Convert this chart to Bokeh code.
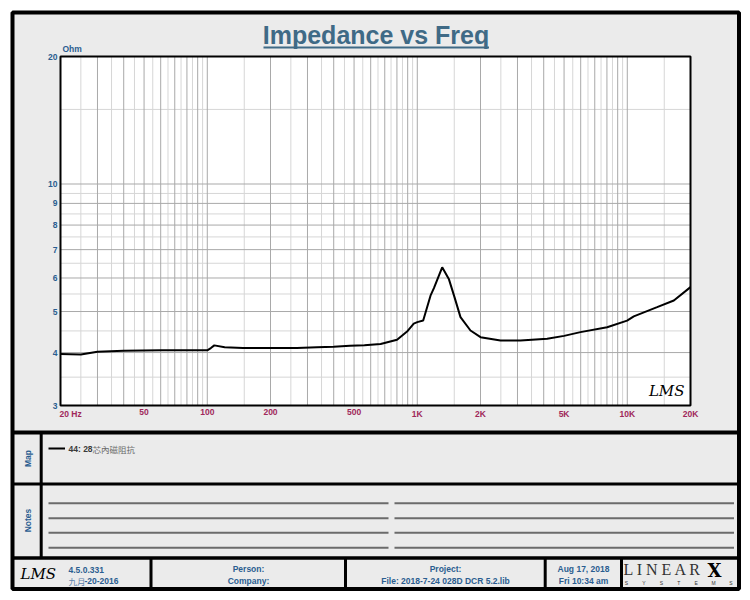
import math
from bokeh.plotting import figure
from bokeh.models import Range1d, LogScale
from bokeh.core.properties import value
from bokeh.embed import file_html
from bokeh.resources import INLINE

# ---------------- data ----------------
freq_hz = [20, 25, 30, 40, 60, 80, 100, 104, 108, 121, 148, 200, 267, 333, 400,
           478, 560, 669, 801, 900, 962, 1000, 1067, 1156, 1200, 1314, 1413,
           1500, 1606, 1792, 2000, 2490, 3100, 4155, 5000, 5985, 8016, 9980,
           10740, 13870, 16660, 20000]
impedance_ohm = [3.97, 3.96, 4.02, 4.04, 4.05, 4.05, 4.05, 4.10, 4.16, 4.12, 4.10,
                 4.10, 4.10, 4.12, 4.13, 4.15, 4.16, 4.19, 4.29, 4.50, 4.68, 4.72,
                 4.76, 5.45, 5.68, 6.36, 5.97, 5.43, 4.85, 4.51, 4.35, 4.27, 4.27,
                 4.31, 4.38, 4.47, 4.59, 4.76, 4.87, 5.12, 5.31, 5.71]

x_tick_values = [20, 50, 100, 200, 500, 1000, 2000, 5000, 10000, 20000]
x_tick_labels = ["20  Hz", "50", "100", "200", "500", "1K", "2K", "5K", "10K", "20K"]
y_tick_values = [3, 4, 5, 6, 7, 8, 9, 10, 20]
y_tick_labels = ["3", "4", "5", "6", "7", "8", "9", "10", "20"]
y_grid_major = [4, 5, 6, 7, 8, 9, 10]
y_grid_minor = [3.5, 4.5, 5.5, 6.5, 7.5, 8.5, 9.5, 15]

title_text = "Impedance vs Freq"
y_unit = "Ohm"
legend_id = "44: 28"
legend_name = "芯內磁阻抗"
version_text = "4.5.0.331"
date_cjk = "九月"
date_rest = "-20-2016"
person_lines = ["Person:", "Company:"]
project_lines = ["Project:", "File: 2018-7-24 028D DCR 5.2.lib"]
stamp_lines = ["Aug 17, 2018", "Fri 10:34 am"]

# ---------------- layout constants ----------------
W, H = 750, 600
PX0, PX1 = 60, 690          # chart frame left/right (px)
PY0, PY1 = 56, 405          # chart frame top/bottom (px)
F_MIN, F_MAX = 20, 20000
Z_MIN, Z_MAX = 3, 20

GREY = "#ebebeb"
BLUE = "#2a5d90"
TITLE_BLUE = "#3f6a86"
MAROON = "#a0285a"
GRID_DARK = "#a9a9a9"
GRID_LIGHT = "#d6d6d6"
FONT = "Liberation Sans"
CJK = "Noto Sans CJK TC"
SMALL = "8.5px"

dec_px = (PX1 - PX0) / math.log10(F_MAX / F_MIN)
f_left = F_MIN * 10 ** (-PX0 / dec_px)
f_right = F_MIN * 10 ** ((W - PX0) / dec_px)
z_px = (PY1 - PY0) / math.log10(Z_MAX / Z_MIN)
z_top = Z_MAX * 10 ** (PY0 / z_px)
z_bottom = Z_MIN * 10 ** (-(H - PY1) / z_px)

p = figure(width=W, height=H, x_range=Range1d(0, W), y_range=Range1d(H, 0),
           x_axis_type=None, y_axis_type=None, toolbar_location=None,
           output_backend="svg", min_border=0, outline_line_color=None,
           background_fill_color="white", border_fill_color="white")
p.extra_x_ranges = {"f": Range1d(f_left, f_right)}
p.extra_x_scales = {"f": LogScale()}
p.extra_y_ranges = {"z": Range1d(z_bottom, z_top)}
p.extra_y_scales = {"z": LogScale()}
FZ = dict(x_range_name="f", y_range_name="z")

# panel background
L, R, T, B = 12, 738.5, 12, 588.5
p.quad(left=[L], right=[R], top=[T], bottom=[B], fill_color=GREY, line_color=None)

# chart area
p.quad(left=[F_MIN], right=[F_MAX], bottom=[Z_MIN], top=[Z_MAX], fill_color="white",
       line_color=None, **FZ)

x_major = [k * 10 ** d for d in range(1, 5) for k in range(1, 10)
           if F_MIN < k * 10 ** d < F_MAX]
x_minor = [(k + 0.5) * 10 ** d for d in range(1, 5) for k in range(1, 10)
           if F_MIN < (k + 0.5) * 10 ** d < F_MAX]

p.segment(x0=x_minor, x1=x_minor, y0=[Z_MIN] * len(x_minor), y1=[Z_MAX] * len(x_minor),
          line_color=GRID_LIGHT, line_width=1, **FZ)
p.segment(x0=[F_MIN] * len(y_grid_minor), x1=[F_MAX] * len(y_grid_minor),
          y0=y_grid_minor, y1=y_grid_minor, line_color=GRID_LIGHT, line_width=1, **FZ)
p.segment(x0=x_major, x1=x_major, y0=[Z_MIN] * len(x_major), y1=[Z_MAX] * len(x_major),
          line_color=GRID_DARK, line_width=1, **FZ)
p.segment(x0=[F_MIN] * len(y_grid_major), x1=[F_MAX] * len(y_grid_major),
          y0=y_grid_major, y1=y_grid_major, line_color=GRID_DARK, line_width=1, **FZ)

# impedance curve
p.line(freq_hz, impedance_ohm, line_color="black", line_width=2, **FZ)

# chart frame
p.quad(left=[F_MIN], right=[F_MAX], bottom=[Z_MIN], top=[Z_MAX], fill_color=None,
       line_color="black", line_width=2, **FZ)

# axis labels
p.text(x=[F_MIN] * len(y_tick_values), y=y_tick_values, text=y_tick_labels, x_offset=-3,
       text_align="right", text_baseline="middle", text_font=value(FONT),
       text_font_size=SMALL, text_font_style="bold", text_color=BLUE, **FZ)
p.text(x=[F_MIN], y=[Z_MAX], text=[y_unit], x_offset=2, y_offset=-3,
       text_align="left", text_baseline="bottom", text_font=value(FONT),
       text_font_size=SMALL, text_font_style="bold", text_color=BLUE, **FZ)
p.text(x=x_tick_values[:1], y=[Z_MIN], text=x_tick_labels[:1], x_offset=-1, y_offset=3,
       text_align="left", text_baseline="top", text_font=value(FONT),
       text_font_size=SMALL, text_font_style="bold", text_color=MAROON, **FZ)
p.text(x=x_tick_values[1:], y=[Z_MIN] * (len(x_tick_values) - 1), text=x_tick_labels[1:],
       y_offset=3, text_align="center", text_baseline="top", text_font=value(FONT),
       text_font_size=SMALL, text_font_style="bold", text_color=MAROON, **FZ)

# in-chart logo
p.text(x=[F_MAX], y=[Z_MIN], text=["LMS"], x_offset=-6, y_offset=-6, text_align="right",
       text_baseline="bottom", text_font=value("DejaVu Serif"), text_font_size="15px",
       text_font_style="italic", text_color="black", **FZ)

# title
p.text(x=[375.5], y=[34.5], text=[title_text], text_align="center", text_baseline="middle",
       text_font=value(FONT), text_font_size="25px", text_font_style="bold",
       text_color=TITLE_BLUE)
p.segment(x0=[263], x1=[488.5], y0=[47], y1=[47], line_color=TITLE_BLUE, line_width=2)

# Map panel
p.text(x=[27], y=[458], text=["Map"], angle=math.pi / 2, text_align="center",
       text_baseline="middle", text_font=value(FONT), text_font_size=SMALL,
       text_font_style="bold", text_color=BLUE)
p.segment(x0=[48], x1=[64.5], y0=[448], y1=[448], line_color="black", line_width=2)
p.text(x=[68], y=[448], text=[legend_id], text_align="left", text_baseline="middle",
       text_font=value(FONT), text_font_size=SMALL, text_font_style="bold",
       text_color="#3a3a3a")
p.text(x=[92], y=[448], text=[legend_name], text_align="left", text_baseline="middle",
       text_font=value(CJK), text_font_size=SMALL, text_color="#6a6a6a")

# Notes panel
p.text(x=[27], y=[520], text=["Notes"], angle=math.pi / 2, text_align="center",
       text_baseline="middle", text_font=value(FONT), text_font_size=SMALL,
       text_font_style="bold", text_color=BLUE)
note_y = [502.7, 517.7, 532.3, 547.3]
p.segment(x0=[48] * 4 + [394] * 4, x1=[388] * 4 + [733.5] * 4, y0=note_y * 2, y1=note_y * 2,
          line_color="#6b6b6b", line_width=2)

# footer
p.text(x=[20], y=[573], text=["LMS"], text_align="left", text_baseline="middle",
       text_font=value("DejaVu Serif"), text_font_size="15px", text_font_style="italic",
       text_color="black")
p.text(x=[68], y=[569.5], text=[version_text], text_align="left", text_baseline="middle",
       text_font=value(FONT), text_font_size=SMALL, text_font_style="bold", text_color=BLUE)
p.text(x=[68], y=[580], text=[date_cjk], text_align="left", text_baseline="middle",
       text_font=value(CJK), text_font_size=SMALL, text_color="#5b82aa")
p.text(x=[84], y=[580], text=[date_rest], text_align="left", text_baseline="middle",
       text_font=value(FONT), text_font_size=SMALL, text_font_style="bold", text_color=BLUE)
for cx, lines in ((248, person_lines), (445, project_lines), (583, stamp_lines)):
    p.text(x=[cx, cx], y=[568.5, 580], text=lines, text_align="center",
           text_baseline="middle", text_font=value(FONT), text_font_size=SMALL,
           text_font_style="bold", text_color=BLUE)

# LINEAR X logo
p.text(x=[623], y=[569], text=["L I N E A R"], text_align="left", text_baseline="middle",
       text_font=value("Liberation Serif"), text_font_size="16px", text_color="#333333")
p.text(x=[707], y=[569.5], text=["X"], text_align="left", text_baseline="middle",
       text_font=value("DejaVu Serif"), text_font_size="18px", text_font_style="bold",
       text_color="black")
sys_letters = list("SYSTEMS")
p.text(x=[626 + i * 17.4 for i in range(len(sys_letters))], y=[582.5] * len(sys_letters),
       text=sys_letters, text_align="center", text_baseline="middle",
       text_font=value(FONT), text_font_size="5px", text_color="#333333")

# panel frame + separators
p.quad(left=[L], right=[R], top=[T], bottom=[B], fill_color=None, line_color="black",
       line_width=4)
p.segment(x0=[L, L, L], x1=[R, R, R], y0=[432, 483.5, 557.5], y1=[432, 483.5, 557.5],
          line_color="black", line_width=[4, 3, 3.5])
p.segment(x0=[40.7], x1=[40.7], y0=[432], y1=[557.5], line_color="black", line_width=3)
foot_x = [150.5, 345, 544.7, 621]
p.segment(x0=foot_x, x1=foot_x, y0=[557.5] * 4, y1=[B] * 4, line_color="black", line_width=3)

open("out.html", "w").write(file_html(p, INLINE))
